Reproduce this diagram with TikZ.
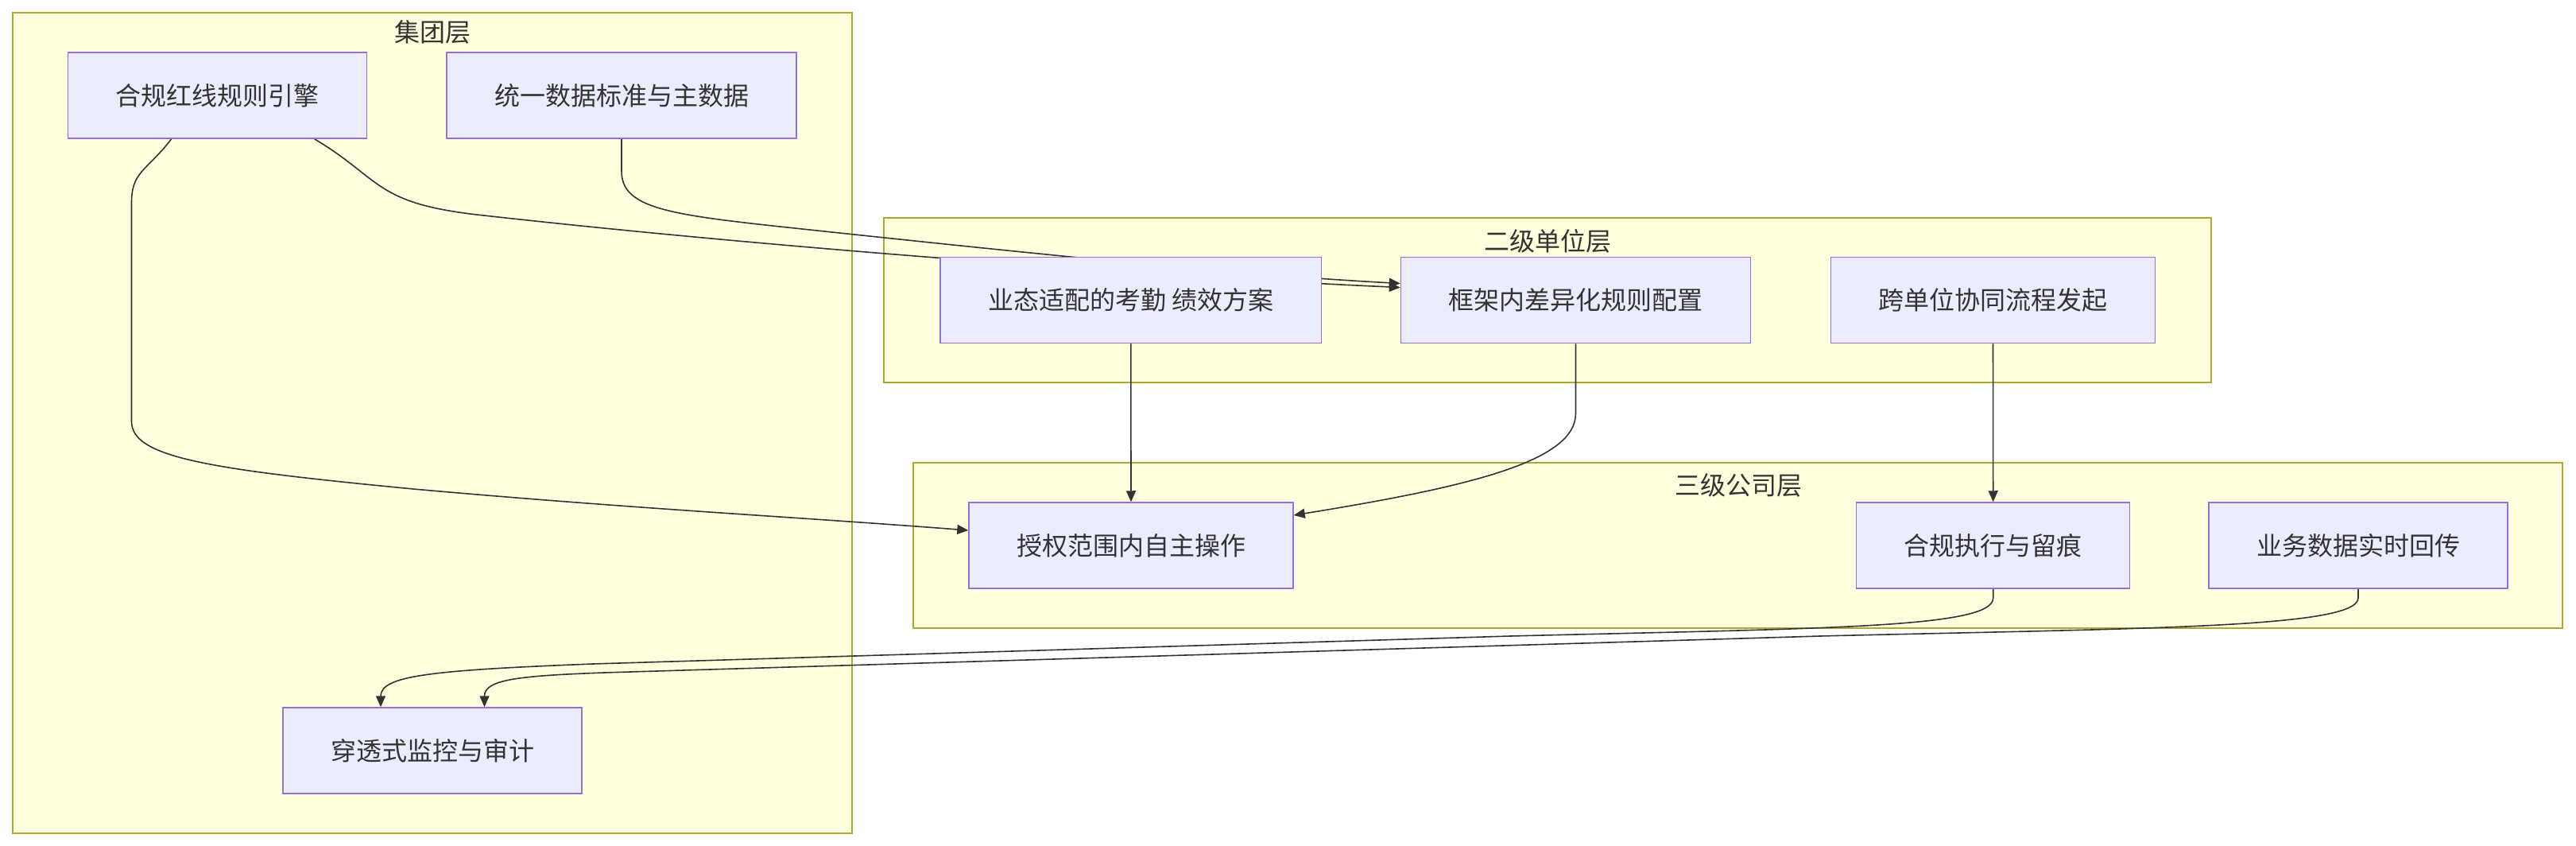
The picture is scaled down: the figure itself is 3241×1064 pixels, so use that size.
\documentclass[tikz,border=0pt]{standalone}
\usepackage{fontspec}
\setmainfont{Noto Sans CJK SC}
\usetikzlibrary{arrows.meta}
\definecolor{layerfill}{HTML}{FFFFDE}
\definecolor{layerline}{HTML}{AAAA33}
\definecolor{nodefill}{HTML}{ECECFF}
\definecolor{nodeline}{HTML}{9370DB}
\definecolor{ink}{HTML}{333333}
\pgfdeclarelayer{back}
\pgfdeclarelayer{lines}
\pgfsetlayers{back,lines,main}

\begin{document}
\begin{tikzpicture}[x=0.5pt,y=-0.5pt,
    every node/.style={font=\fontsize{16pt}{19pt}\selectfont, text=ink},
    box/.style={draw=nodeline, fill=nodefill, line width=0.75pt, minimum height=54pt, inner xsep=30pt},
    layerbox/.style={draw=layerline, fill=layerfill, line width=0.75pt},
    flow/.style={draw=ink, line width=0.8pt, -{Triangle[length=7pt,width=6pt]}}]
  \useasboundingbox (0,0) rectangle (3241,1064);
  % layers
  \begin{pgfonlayer}{back}
    \draw[layerbox] (16,16) rectangle (1072,1048);
    \draw[layerbox] (1112,274) rectangle (2782,481);
    \draw[layerbox] (1149,582) rectangle (3224,790);
  \end{pgfonlayer}
  \node (group) at (544,40) {集团层};
  \node (second) at (1947,303) {二级单位层};
  \node (third) at (2187,610) {三级公司层};
  % nodes
  \node[box] (redline) at (273.6,120) {合规红线规则引擎};
  \node[box] (masterdata) at (782,120) {统一数据标准与主数据};
  \node[box] (scheme) at (1422.8,377.5) {业态适配的考勤 绩效方案};
  \node[box] (config) at (1982.5,377.5) {框架内差异化规则配置};
  \node[box] (launch) at (2507.5,377.5) {跨单位协同流程发起};
  \node[box] (operate) at (1423,686) {授权范围内自主操作};
  \node[box] (execute) at (2507.7,686) {合规执行与留痕};
  \node[box] (upload) at (2967,686) {业务数据实时回传};
  \node[box] (audit) at (544,944) {穿透式监控与审计};
  % edges
  \begin{pgfonlayer}{lines}
    \draw[flow] ([shift={(122,0)}]redline.south) .. controls (480,225) and (470,255) .. (600,270)
      .. controls (1000,315) and (1500,350) .. ([shift={(0,-16)}]config.west);
    \draw[flow] (masterdata.south) -- (782,215) .. controls (782,262) and (840,270) .. (1000,287)
      .. controls (1300,319) and (1550,345) .. ([shift={(0,-21)}]config.west);
    \draw[flow] ([shift={(-58,0)}]redline.south) .. controls (185,215) and (165.5,215) .. (165.5,255)
      -- (165.5,530) .. controls (165.5,575) and (260,590) .. (520,615)
      .. controls (800,640) and (1000,650) .. ([shift={(0,-19)}]operate.west);
    \draw[flow] (scheme.south) -- (operate.north);
    \draw[flow] (config.south) -- (1982.5,520) .. controls (1982.5,580) and (1850,612) .. ([shift={(0,-38)}]operate.east);
    \draw[flow] (launch.south) -- (execute.north);
    \draw[flow] (execute.south) -- (2507.7,752) .. controls (2507.7,790) and (2300,790) .. (1900,800)
      -- (746,835) .. controls (540,843) and (479,850) .. ([shift={(-65,0)}]audit.north);
    \draw[flow] (upload.south) -- (2967,752) .. controls (2967,790) and (2700,790) .. (2290,800)
      -- (760,846) .. controls (650,850) and (609.5,855) .. ([shift={(65.5,0)}]audit.north);
  \end{pgfonlayer}
\end{tikzpicture}
\end{document}
